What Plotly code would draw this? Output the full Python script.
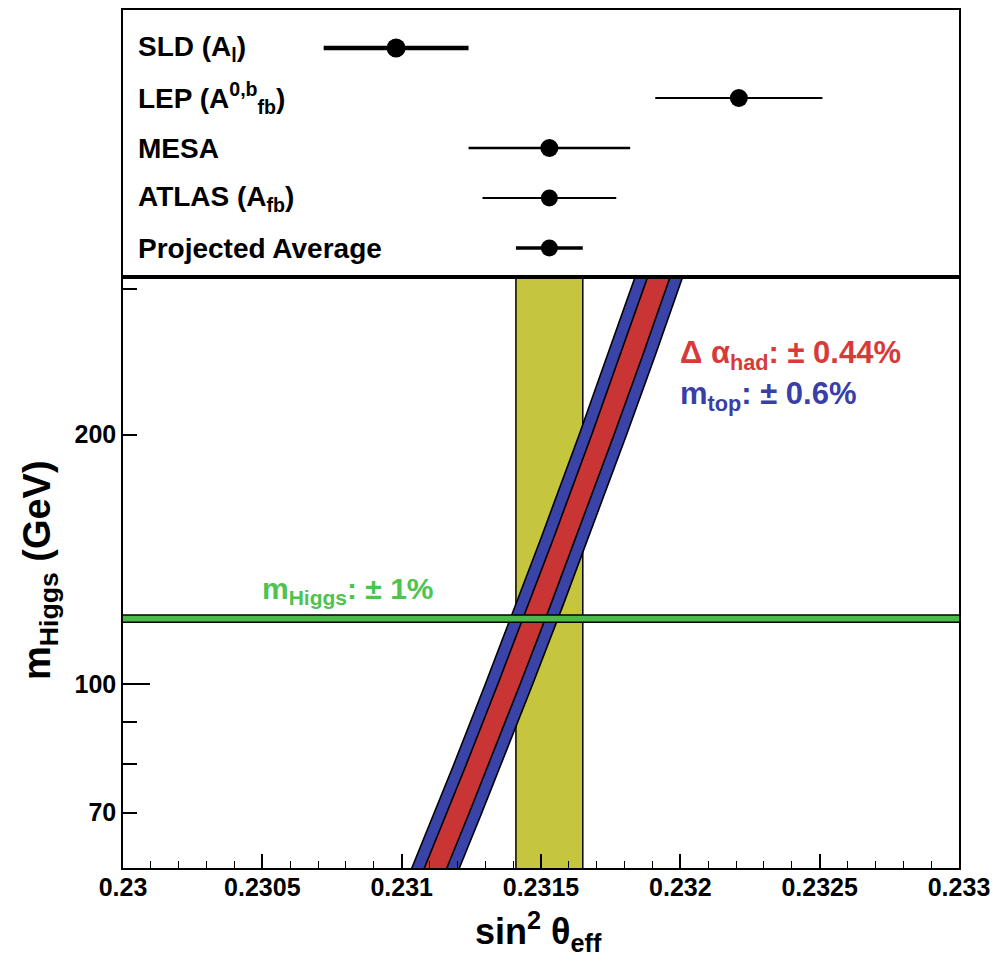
import numpy as np
import plotly.graph_objects as go

# ---------------- data ----------------
meas_names = ["SLD (A<sub>l</sub>)", "LEP (A<sup>0,b</sup><sub>fb</sub>)", "MESA",
              "ATLAS (A<sub>fb</sub>)", "Projected Average"]
meas_vals = [0.23098, 0.23221, 0.23153, 0.23153, 0.23153]
meas_errs = [0.00026, 0.00030, 0.00029, 0.00024, 0.00012]
bar_widths = [4.5, 2.2, 2.6, 2.0, 3.5]
marker_sizes = [19, 18, 18, 17, 17]

# SM prediction band (sin2 theta_eff vs m_Higgs)
mh_band = [55, 60, 70, 80, 100, 125, 150, 200, 250, 300, 340]
sin2_band = [0.231076, 0.231122, 0.231203, 0.231272, 0.231385, 0.231496,
             0.231585, 0.231722, 0.231826, 0.231909, 0.231965]
alpha_halfwidth = 0.000040   # delta alpha_had: +-0.44%
top_halfwidth = 0.000085     # plus m_top: +-0.6%

mh_central = 120.0
mh_rel_err = 0.01

avg_val = meas_vals[-1]
avg_err = meas_errs[-1]

x_range = [0.2300, 0.2330]
y_range = [60, 310]
x_tickvals = [0.2300, 0.2305, 0.2310, 0.2315, 0.2320, 0.2325, 0.2330]
x_ticktext = ["0.23", "0.2305", "0.231", "0.2315", "0.232", "0.2325", "0.233"]
y_tickvals = [70, 100, 200]
y_ticktext = ["70", "100", "200"]
y_minor_vals = [80, 90, 300]

# colours
YELLOW = "#c6c63e"
BLUE = "#3a43a8"
RED = "#c93535"
GREEN = "#4cba48"

FONT = "Liberation Sans, Arial, Helvetica, sans-serif"

fig = go.Figure()

# yellow band: projected average
fig.add_trace(go.Scatter(x=[avg_val - avg_err] * 2, y=y_range, mode="lines",
                         line=dict(color="black", width=1.5), showlegend=False,
                         hoverinfo="skip", xaxis="x", yaxis="y"))
fig.add_trace(go.Scatter(x=[avg_val + avg_err] * 2, y=y_range, mode="lines",
                         line=dict(color="black", width=1.5), fill="tonextx",
                         fillcolor=YELLOW, showlegend=False, hoverinfo="skip",
                         xaxis="x", yaxis="y"))

c = np.array(sin2_band)
m = np.array(mh_band, dtype=float)
for hw, col in [(top_halfwidth, BLUE), (alpha_halfwidth, RED)]:
    xs = np.concatenate([c - hw, (c + hw)[::-1], [c[0] - hw]])
    ys = np.concatenate([m, m[::-1], [m[0]]])
    fig.add_trace(go.Scatter(x=xs, y=ys, mode="lines", fill="toself",
                             fillcolor=col, line=dict(color="black", width=1.6),
                             showlegend=False, hoverinfo="skip",
                             xaxis="x", yaxis="y"))

# green band: m_Higgs
fig.add_trace(go.Scatter(x=x_range, y=[mh_central * (1 - mh_rel_err)] * 2, mode="lines",
                         line=dict(color="black", width=1.5), showlegend=False,
                         hoverinfo="skip", xaxis="x", yaxis="y"))
fig.add_trace(go.Scatter(x=x_range, y=[mh_central * (1 + mh_rel_err)] * 2, mode="lines",
                         line=dict(color="black", width=1.5), fill="tonexty",
                         fillcolor=GREEN, showlegend=False, hoverinfo="skip",
                         xaxis="x", yaxis="y"))

# invisible trace for the long decade tick axis
fig.add_trace(go.Scatter(x=[None], y=[None], xaxis="x", yaxis="y3",
                         showlegend=False, hoverinfo="skip"))

# upper panel: measurements
for i, (name, v, e, w, s) in enumerate(zip(meas_names, meas_vals, meas_errs,
                                           bar_widths, marker_sizes)):
    fig.add_trace(go.Scatter(x=[v], y=[i], mode="markers",
                             marker=dict(color="black", size=s),
                             error_x=dict(type="data", array=[e], color="black",
                                          thickness=w, width=0),
                             showlegend=False, xaxis="x2", yaxis="y2"))
    fig.add_annotation(x=0.015, xref="x2 domain", y=i, yref="y2",
                       text=name, showarrow=False, xanchor="left", yanchor="middle",
                       font=dict(family=FONT, size=28, color="black", weight="bold"))

low_top = 591 / 858

axis_common = dict(showline=True, linecolor="black", linewidth=1.5, mirror=True,
                   showgrid=False, zeroline=False, automargin=False)

fig.update_layout(
    width=993, height=962,
    margin=dict(l=123, r=34, t=10, b=94),
    paper_bgcolor="white", plot_bgcolor="white",
    showlegend=False,
    xaxis=dict(range=x_range, domain=[0, 1], anchor="y",
               tickmode="array", tickvals=x_tickvals, ticktext=x_ticktext,
               ticks="inside", ticklen=14, tickwidth=1.5, tickcolor="black",
               minor=dict(dtick=0.0001, tick0=0.23, ticks="inside", ticklen=7,
                          tickwidth=1.2, tickcolor="black"),
               tickfont=dict(family=FONT, size=25, color="black", weight="bold"),
               ticklabeloverflow="allow", ticklabelstandoff=-4,
               **axis_common),
    yaxis=dict(type="log", range=[np.log10(y_range[0]), np.log10(y_range[1])],
               domain=[0, low_top], anchor="x",
               tickmode="array", tickvals=y_tickvals, ticktext=y_ticktext,
               ticks="inside", ticklen=14, tickwidth=1.5, tickcolor="black",
               minor=dict(tickvals=y_minor_vals, ticks="inside", ticklen=14,
                          tickwidth=1.5, tickcolor="black"),
               tickfont=dict(family=FONT, size=25, color="black", weight="bold"),
               ticklabeloverflow="allow",
               **axis_common),
    yaxis3=dict(type="log", range=[np.log10(y_range[0]), np.log10(y_range[1])],
                overlaying="y", anchor="x", side="left", automargin=False,
                tickmode="array", tickvals=[100], ticks="inside", ticklen=27,
                tickwidth=1.5, tickcolor="black", showticklabels=False,
                showline=False, showgrid=False, zeroline=False),
    xaxis2=dict(range=x_range, domain=[0, 1], anchor="y2", showticklabels=False,
                ticks="", **axis_common),
    yaxis2=dict(range=[4.58, -0.76], domain=[low_top, 1], anchor="x2",
                showticklabels=False, ticks="", **axis_common),
)

# axis titles (paper coords relative to the plot area)
fig.add_annotation(x=(40 - 123) / 836, y=(868 - 570) / 858, xref="paper", yref="paper",
                   text="m<sub>Higgs</sub> (GeV)", textangle=-90, showarrow=False,
                   xanchor="center", yanchor="middle",
                   font=dict(family=FONT, size=38, color="black", weight="bold"))
fig.add_annotation(x=(538 - 123) / 836, y=(868 - 932) / 858, xref="paper", yref="paper",
                   text="sin<sup>2</sup> θ<sub>eff</sub>", showarrow=False,
                   xanchor="center", yanchor="middle",
                   font=dict(family=FONT, size=36, color="black", weight="bold"))

# band labels
fig.add_annotation(x=(678 - 123) / 836, y=(868 - 355) / 858, xref="paper", yref="paper",
                   text="Δ α<sub>had</sub>: ± 0.44%", showarrow=False,
                   xanchor="left", yanchor="middle",
                   font=dict(family=FONT, size=31, color="#d83a3a", weight="bold"))
fig.add_annotation(x=(678 - 123) / 836, y=(868 - 396) / 858, xref="paper", yref="paper",
                   text="m<sub>top</sub>: ± 0.6%", showarrow=False,
                   xanchor="left", yanchor="middle",
                   font=dict(family=FONT, size=31, color="#3a3fa8", weight="bold"))
fig.add_annotation(x=(260 - 123) / 836, y=(868 - 590) / 858, xref="paper", yref="paper",
                   text="m<sub>Higgs</sub>: ± 1%", showarrow=False,
                   xanchor="left", yanchor="middle",
                   font=dict(family=FONT, size=30, color="#4cc44e", weight="bold"))

# remove the default page margin so the figure fills the window exactly
fig.write_html("out.html", config={"displayModeBar": False},
               post_script="document.body.style.margin='0';"
                           "document.body.style.overflow='hidden';")
